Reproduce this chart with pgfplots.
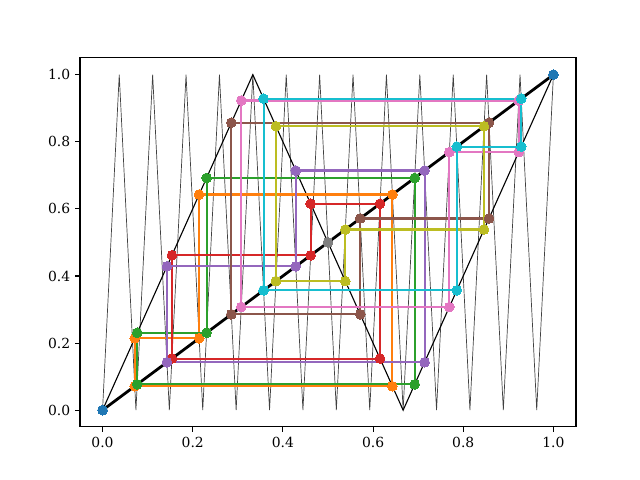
\documentclass[border=0pt]{standalone}
\usepackage{fontspec}
\setmainfont{DejaVu Serif}
\usepackage{pgfplots}
\pgfplotsset{compat=1.18}
\definecolor{C0}{HTML}{1F77B4}
\definecolor{C1}{HTML}{FF7F0E}
\definecolor{C2}{HTML}{2CA02C}
\definecolor{C3}{HTML}{D62728}
\definecolor{C4}{HTML}{9467BD}
\definecolor{C5}{HTML}{8C564B}
\definecolor{C6}{HTML}{E377C2}
\definecolor{C7}{HTML}{7F7F7F}
\definecolor{C8}{HTML}{BCBD22}
\definecolor{C9}{HTML}{17BECF}
\pgfplotsset{
  cob/.style={#1, line width=1.5pt, line join=round, mark=*, mark size=3.5pt,
    mark options={solid, fill=#1, draw=#1, line width=0pt}},
}
\begin{document}
\begin{tikzpicture}
\path[use as bounding box] (-57.6pt,-38.2pt) rectangle (403.2pt,307.4pt);
\begin{axis}[
  at={(0,0)}, anchor=south west,
  scale only axis, width=357.1pt, height=265.7pt,
  xmin=-0.05, xmax=1.05, ymin=-0.05, ymax=1.05,
  xtick={0,0.2,0.4,0.6,0.8,1.0},
  ytick={0,0.2,0.4,0.6,0.8,1.0},
  tick align=outside, xtick pos=bottom, ytick pos=left,
  major tick length=3.5pt,
  every tick/.style={black, line width=0.8pt},
  axis line style={line width=0.8pt},
  tick label style={font=\fontsize{10}{12}\selectfont},
  /pgf/number format/.cd, fixed, fixed zerofill, precision=1, assume math mode=true,
]
% f^3
\addplot[black!75, line width=0.5pt, no marks] coordinates {
(0,0) (0.037037,1) (0.074074,0) (0.111111,1) (0.148148,0) (0.185185,1)
(0.222222,0) (0.259259,1) (0.296296,0) (0.333333,1) (0.370370,0) (0.407407,1)
(0.444444,0) (0.481481,1) (0.518519,0) (0.555556,1) (0.592593,0) (0.629630,1)
(0.666667,0) (0.703704,1) (0.740741,0) (0.777778,1) (0.814815,0) (0.851852,1)
(0.888889,0) (0.925926,1) (0.962963,0) (1,1)};
% f
\addplot[black, line width=0.8pt, no marks] coordinates {
(0,0) (0.333333,1) (0.666667,0) (1,1)};
% diagonal
\addplot[black, line width=2pt, no marks] coordinates {(0,0) (1,1)};
% orbits
\addplot[cob=C0] coordinates {(0,0) (0,0)};
\addplot[cob=C1] coordinates {
(0.071429,0.071429) (0.071429,0.214286) (0.214286,0.214286) (0.214286,0.642857)
(0.642857,0.642857) (0.642857,0.071429) (0.071429,0.071429)};
\addplot[cob=C2] coordinates {
(0.076923,0.076923) (0.076923,0.230769) (0.230769,0.230769) (0.230769,0.692308)
(0.692308,0.692308) (0.692308,0.076923) (0.076923,0.076923)};
\addplot[cob=C3] coordinates {
(0.153846,0.153846) (0.153846,0.461538) (0.461538,0.461538) (0.461538,0.615385)
(0.615385,0.615385) (0.615385,0.153846) (0.153846,0.153846)};
\addplot[cob=C4] coordinates {
(0.142857,0.142857) (0.142857,0.428571) (0.428571,0.428571) (0.428571,0.714286)
(0.714286,0.714286) (0.714286,0.142857) (0.142857,0.142857)};
\addplot[cob=C5] coordinates {
(0.285714,0.285714) (0.285714,0.857143) (0.857143,0.857143) (0.857143,0.571429)
(0.571429,0.571429) (0.571429,0.285714) (0.285714,0.285714)};
\addplot[cob=C6] coordinates {
(0.307692,0.307692) (0.307692,0.923077) (0.923077,0.923077) (0.923077,0.769231)
(0.769231,0.769231) (0.769231,0.307692) (0.307692,0.307692)};
\addplot[cob=C7] coordinates {(0.5,0.5) (0.5,0.5)};
\addplot[cob=C8] coordinates {
(0.384615,0.384615) (0.384615,0.846154) (0.846154,0.846154) (0.846154,0.538462)
(0.538462,0.538462) (0.538462,0.384615) (0.384615,0.384615)};
\addplot[cob=C9] coordinates {
(0.357143,0.357143) (0.357143,0.928571) (0.928571,0.928571) (0.928571,0.785714)
(0.785714,0.785714) (0.785714,0.357143) (0.357143,0.357143)};
\addplot[cob=C0] coordinates {(1,1) (1,1)};
\end{axis}
\end{tikzpicture}
\end{document}
